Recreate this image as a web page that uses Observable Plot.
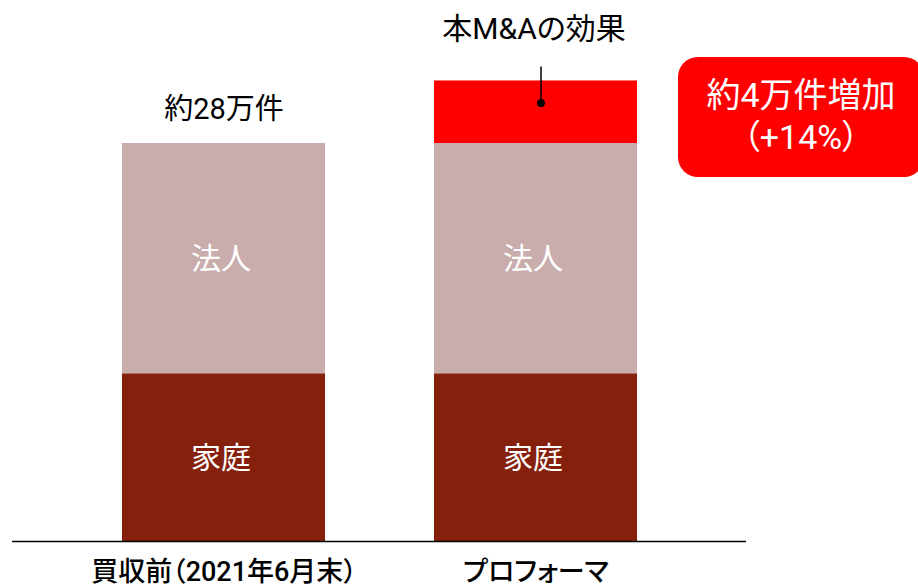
<!DOCTYPE html>
<html><head><meta charset="utf-8">
<script src="https://cdn.jsdelivr.net/npm/d3@7"></script>
<script src="https://cdn.jsdelivr.net/npm/@observablehq/plot@0.6"></script>
<style>
body{margin:0;background:#fff;font-family:Roboto,"Noto Sans CJK JP",sans-serif;}
#wrap{position:relative;width:918px;height:588px;overflow:hidden;}
svg{font-feature-settings:"palt";}
#box{position:absolute;left:678px;top:57px;width:246px;height:120px;background:#ff0000;border-radius:20px;color:#fff;
 font-size:34px;line-height:42px;text-align:center;box-sizing:border-box;padding-top:17px;font-feature-settings:"palt";}
#box div{white-space:nowrap}
</style></head><body>
<div id="wrap"></div>
<script>
const categories = ["買収前（2021年6月末）", "プロフォーマ"];
const segments = ["家庭", "法人", "本M&Aの効果"];
const katei = [11.8, 11.8];
const houjin = [16.2, 16.2];
const maEffect = [0, 4.4];
const totalLabels = ["約28万件", ""];
const increaseText = ["約4万件増加", "（+14%）"];
const colors = ["#85200c", "#c9adac", "#ff0000"];

const data = [];
categories.forEach((c, i) => {
  data.push({cat: c, seg: segments[0], v: katei[i]});
  data.push({cat: c, seg: segments[1], v: houjin[i]});
  if (maEffect[i] > 0) data.push({cat: c, seg: segments[2], v: maEffect[i]});
});
const totals = categories.map((c, i) => ({cat: c, total: katei[i] + houjin[i] + maEffect[i], label: totalLabels[i], ma: maEffect[i]}));
const maTotals = totals.filter(d => d.ma > 0);

const chart = Plot.plot({
  width: 918, height: 588,
  marginLeft: 12, marginRight: 172, marginTop: 0, marginBottom: 47,
  style: {fontFamily: 'Roboto, "Noto Sans CJK JP", sans-serif', background: "#fff"},
  x: {domain: categories, range: [122, 637], paddingInner: 0.35, paddingOuter: 0, axis: null, label: null},
  y: {domain: [0, 28], range: [541, 143], axis: null},
  color: {domain: segments, range: colors},
  marks: [
    Plot.barY(data, {x: "cat", y: "v", fill: "seg", order: segments}),
    Plot.text(data.filter(d => d.seg !== segments[2]), Plot.stackY({x: "cat", y: "v", z: "seg", order: segments, text: "seg", fill: "white", fontSize: 30, dx: -3, dy: 1})),
    Plot.text(totals.filter(d => d.label), {x: "cat", y: "total", text: "label", fontSize: 29, fill: "black", dy: -34}),
    Plot.ruleX(maTotals, {x: "cat", y1: "total", y2: "total", dx: 5, insetTop: -14, insetBottom: -22, stroke: "black", strokeWidth: 1.5}),
    Plot.dot(maTotals, {x: "cat", y: "total", dx: 5, dy: 22, r: 4, fill: "black"}),
    Plot.text(maTotals, {x: "cat", y: "total", text: () => segments[2], fontSize: 30, fill: "black", dx: -2, dy: -52}),
    Plot.ruleY([0], {stroke: "black", strokeWidth: 1.5}),
    Plot.axisX({domain: categories, tickSize: 0, tickPadding: 20, fontSize: 27, fontWeight: 500, fill: "black", label: null})
  ]
});
document.getElementById("wrap").appendChild(chart);
const box = document.createElement("div");
box.id = "box";
increaseText.forEach(t => { const d = document.createElement("div"); d.textContent = t; box.appendChild(d); });
document.getElementById("wrap").appendChild(box);
</script>
</body></html>
